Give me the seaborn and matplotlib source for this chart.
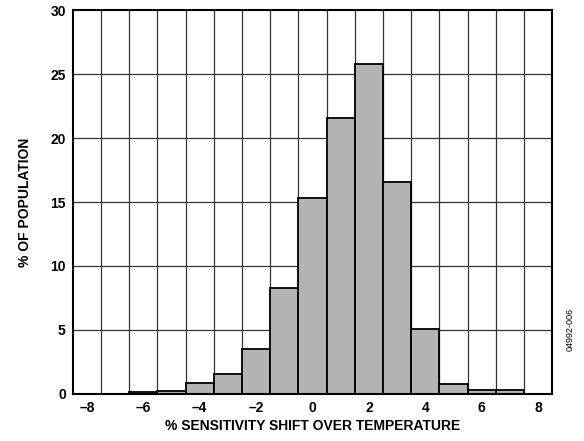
import numpy as np
import pandas as pd
import seaborn as sns
from matplotlib import pyplot as plt

# % sensitivity shift, bin centres and % of population per bin
shift = [-6, -5, -4, -3, -2, -1, 0, 1, 2, 3, 4, 5, 6, 7]
population = [0.15, 0.25, 0.83, 1.6, 3.5, 8.3, 15.3, 21.6, 25.8, 16.6, 5.1, 0.8, 0.3, 0.3]
xticks = [-8, -6, -4, -2, 0, 2, 4, 6, 8]
yticks = [0, 5, 10, 15, 20, 25, 30]

df = pd.DataFrame({'shift': shift, 'pct': population})

sns.set_style("white")
plt.rcParams['font.family'] = ['Liberation Sans', 'DejaVu Sans']
plt.rcParams['text.color'] = 'black'
plt.rcParams['axes.labelcolor'] = 'black'
plt.rcParams['xtick.color'] = 'black'
plt.rcParams['ytick.color'] = 'black'

fig = plt.figure(figsize=(5.84, 4.41), dpi=100)
ax = fig.add_axes([0.1245, 0.1066, 0.8212, 0.8707])

# grid lines sit on the bin edges, under the bars
for v in np.arange(-7.5, 8, 1):
    ax.axvline(v, color='#333333', lw=0.9, zorder=0)
for h in yticks[1:-1]:
    ax.axhline(h, color='#333333', lw=0.9, zorder=0)

sns.histplot(data=df, x='shift', weights='pct', discrete=True, ax=ax,
             color='#b3b3b3', edgecolor='black', linewidth=1.3, alpha=1, zorder=2)

ax.set_xlim(-8.5, 8.5)
ax.set_ylim(0, 30)
ax.set_xticks(xticks)
ax.set_xticklabels([str(t).replace('-', '\u2013') for t in xticks], fontsize=10, fontweight='bold')
ax.set_yticks(yticks)
ax.set_yticklabels([str(t) for t in yticks], fontsize=10, fontweight='bold')
ax.tick_params(length=0, pad=5)

ax.set_xlabel('% SENSITIVITY SHIFT OVER TEMPERATURE', fontsize=10, fontweight='bold', labelpad=3)
ax.set_ylabel('% OF POPULATION', fontsize=10, fontweight='bold', labelpad=13)

for s in ax.spines.values():
    s.set_visible(True)
    s.set_color('black')
    s.set_linewidth(1.5)

fig.text(0.976, 0.252, '04992-006', rotation=90, fontsize=6.5, ha='center', va='center')

fig.savefig('out.png', dpi=100)
